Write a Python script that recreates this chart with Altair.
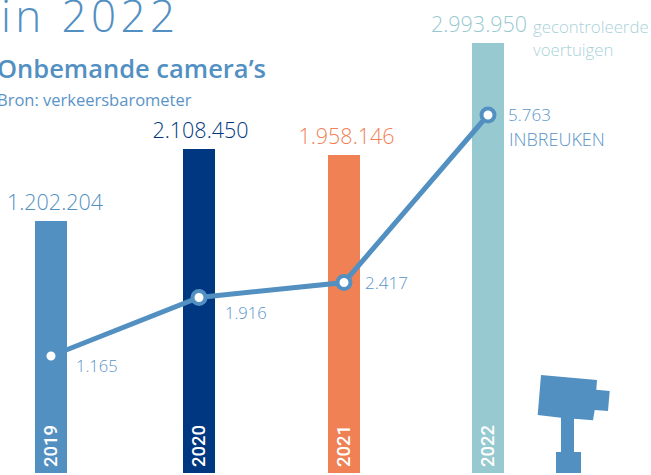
import altair as alt
import pandas as pd

years = [2019, 2020, 2021, 2022]
vehicles = [1202204, 2108450, 1958146, 2993950]
vehicle_labels = ["1.202.204", "2.108.450", "1.958.146", "2.993.950"]
offences = [1165, 1916, 2417, 5763]
offence_labels = ["1.165", "1.916", "2.417", "5.763"]
bar_colors = ["#5390c2", "#003781", "#ef8155", "#97c9d0"]

df = pd.DataFrame(dict(year=years, vehicles=vehicles, vlabel=vehicle_labels,
                       offences=offences, olabel=offence_labels, color=bar_colors,
                       base=[0, 0, 0, 0], ylabel=[str(y) for y in years]))

BLUE = "#5390c2"
LIGHT = "#5a94c8"
FONT = "Open Sans"

x = alt.X("year:Q", axis=None, scale=alt.Scale(domain=years, range=[51, 199, 344, 488], padding=0, nice=False, zero=False))
vy_scale = alt.Scale(domain=[0, 1202204, 1958146, 2108450, 2993950], range=[473, 221, 155, 149, 43])
oy_scale = alt.Scale(domain=offences, range=[356, 297.5, 282.5, 115])
vy = alt.Y("vehicles:Q", axis=None, scale=vy_scale)
oy = alt.Y("offences:Q", axis=None, scale=oy_scale)

bars = alt.Chart(df).mark_bar(size=32, opacity=1).encode(
    x=x,
    y=vy,
    y2=alt.Y2("base:Q"),
    color=alt.Color("color:N", scale=None, legend=None),
)

layers = [bars]

line = alt.Chart(df).mark_line(color=BLUE, strokeWidth=5).encode(x=x, y=oy)
rings = alt.Chart(df).mark_point(filled=True, shape="circle", size=169, fill="white", stroke=BLUE,
                                 strokeWidth=4, opacity=1).encode(x=x, y=oy)
layers += [line, rings]

# value labels above each bar
for i, dx in enumerate([4, 1.5, 2.5, -9]):
    layers.append(
        alt.Chart(df.iloc[[i]]).mark_text(font=FONT, fontWeight=300, fontSize=21.5, align="center",
                                          baseline="alphabetic", dx=dx, dy=-11.5, color=bar_colors[i]).encode(
            x=x, y=vy, text="vlabel:N")
    )

# offence labels next to the markers
for i, (dx, dy, size) in enumerate([(25, 16, 16.5), (26, 21, 16.5), (21, 6, 17), (20, 6, 17)]):
    layers.append(
        alt.Chart(df.iloc[[i]]).mark_text(font=FONT, fontWeight=300, fontSize=size, align="left",
                                          baseline="alphabetic", dx=dx, dy=dy, color=LIGHT).encode(
            x=x, y=oy, text="olabel:N")
    )

# rotated year labels inside the bars
layers.append(
    alt.Chart(df).mark_text(font="Roboto", fontSize=18.5, fontWeight=500, angle=270, align="left", baseline="alphabetic",
                            dy=6, color="white").encode(
        x=x, y=alt.value(467), text="ylabel:N")
)

def note(text, px, py, size, color, weight=400):
    return alt.Chart(pd.DataFrame({"t": [text]})).mark_text(
        font=FONT, fontSize=size, fontWeight=weight, color=color, align="left", baseline="alphabetic"
    ).encode(x=alt.value(px), y=alt.value(py), text="t:N")

layers += [
    note("i\u200an\u200a \u200a2\u200a0\u200a2\u200a2", 1, 32, 44, BLUE, 300),
    note("Onbemande camera’s", -3, 78, 25.5, BLUE, 600),
    note("Bron: verkeersbarometer", -3, 106, 16.5, LIGHT, 400),
    note("gecontroleerde", 533, 33, 16.8, "#a9d2d8", 300),
    note("voertuigen", 533, 56, 16.8, "#a9d2d8", 300),
    note("INBREUKEN", 509, 146, 18, LIGHT, 300),
]

# camera icon
camera_path = ("M-29,-45 L27,-40 L26.3,-30.3 L39.7,-29 L38,-9 L24.7,-10 L23,0.3 L4,-1.2 L4,32 "
               "L11,32 L11,53 L-14,53 L-14,32 L-9,32 L-9,-2.3 L-32.3,-5 Z")
layers.append(
    alt.Chart(pd.DataFrame({"k": [1]})).mark_point(shape=camera_path, size=4, filled=True, fill=BLUE,
                                                   stroke=None, opacity=1).encode(
        x=alt.value(570), y=alt.value(420))
)

chart = alt.layer(*layers).resolve_scale(y="independent", x="shared").properties(
    width=651, height=475, padding=0, autosize=alt.AutoSizeParams(type="none")
).configure_view(stroke=None)

chart.save("out.html", embed_options={
    "renderer": "svg", "actions": False,
    "defaultStyle": "html,body{margin:0;padding:0;overflow:hidden}"
})
